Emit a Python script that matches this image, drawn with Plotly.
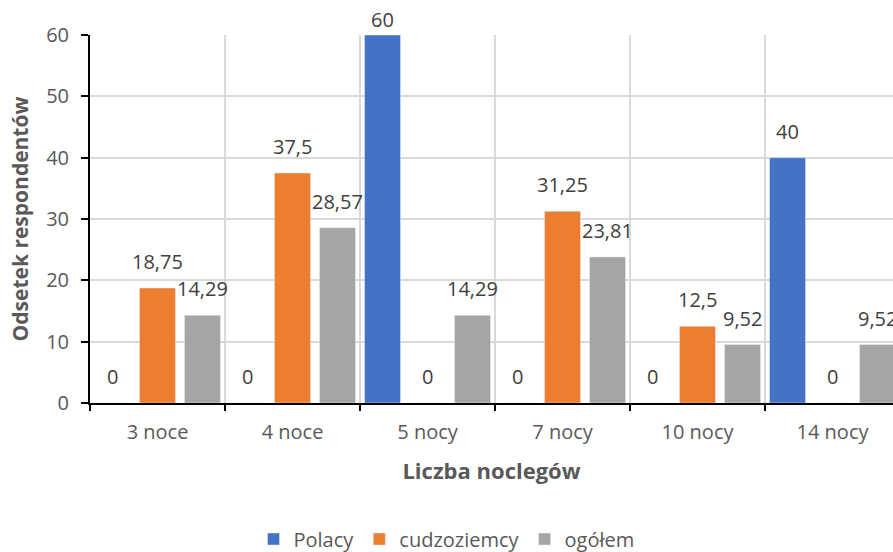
import plotly.graph_objects as go

categories = ["3 noce", "4 noce", "5 nocy", "7 nocy", "10 nocy", "14 nocy"]
polacy = [0, 0, 60, 0, 0, 40]
cudzoziemcy = [18.75, 37.5, 0, 31.25, 12.5, 0]
ogolem = [14.29, 28.57, 14.29, 23.81, 9.52, 9.52]

series = [("Polacy", polacy, "#4472C4"),
          ("cudzoziemcy", cudzoziemcy, "#ED7D31"),
          ("ogółem", ogolem, "#A5A5A5")]

Y_MAX = 60

def fmt(v):
    s = ("%g" % v)
    return s.replace(".", ",")

FONT = "Open Sans, sans-serif"

W, H = 893, 552
ML, MR, MT, MB = 90, 0, 35, 149
X_RANGE = [-0.5, 5.448]
cat_px = (W - ML - MR) / (X_RANGE[1] - X_RANGE[0])
slot_px = cat_px / len(series)
plot_h = H - MT - MB

fig = go.Figure()
annotations = []
for i, (name, vals, color) in enumerate(series):
    fig.add_trace(go.Bar(
        x=categories, y=vals, name=name, marker_color=color,
        hoverinfo="skip",
    ))
    for c, v in zip(categories, vals):
        capped = v >= Y_MAX
        annotations.append(dict(
            x=c, y=min(v, Y_MAX), xref="x", yref="y", text=fmt(v),
            showarrow=False, yanchor="bottom", xanchor="center",
            xshift=(i - (len(series) - 1) / 2) * slot_px,
            yshift=0 if capped else 11,
            font=dict(size=20, color="#404040", family=FONT),
        ))

fig.update_layout(
    width=W, height=H,
    margin=dict(l=ML, r=MR, t=MT, b=MB, autoexpand=False),
    plot_bgcolor="white", paper_bgcolor="white",
    barmode="group", bargap=0.0, bargroupgap=0.2,
    font=dict(family=FONT, size=20, color="#595959"),
    showlegend=True,
    legend=dict(orientation="h", xref="container", yref="paper",
                x=0.5, xanchor="center", y=-136 / plot_h, yanchor="middle",
                font=dict(size=20, color="#595959"), itemwidth=30,
                traceorder="normal"),
    annotations=annotations,
)
fig.update_xaxes(
    range=X_RANGE, automargin=False,
    showline=True, linecolor="black", linewidth=2,
    ticks="outside", ticklen=6, tickwidth=2, tickcolor="black",
    tickson="boundaries", ticklabelstandoff=10,
    showgrid=True, gridcolor="#D9D9D9", gridwidth=2,
    tickfont=dict(size=20, color="#595959"),
    title=dict(text="<b>Liczba noclegów</b>", font=dict(size=22, color="#595959"), standoff=20),
)
fig.update_yaxes(
    range=[0, Y_MAX], dtick=10, automargin=False,
    showline=True, linecolor="black", linewidth=2,
    ticks="outside", ticklen=7, tickwidth=2, tickcolor="black",
    ticklabelstandoff=8,
    showgrid=True, gridcolor="#D9D9D9", gridwidth=2,
    zeroline=False,
    tickfont=dict(size=20, color="#595959"),
    title=dict(text="<b>Odsetek respondentów</b>", font=dict(size=21, color="#595959"), standoff=12),
)

fig.write_html("out.html", config={"displayModeBar": False},
               post_script="document.body.style.margin='0';document.body.style.overflow='hidden';")
